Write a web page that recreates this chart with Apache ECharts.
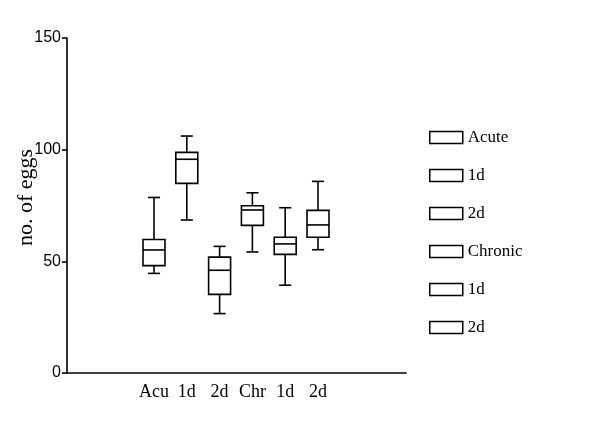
<!DOCTYPE html>
<html>
<head>
<meta charset="utf-8">
<script src="https://cdn.jsdelivr.net/npm/echarts@6/dist/echarts.min.js"></script>
<style>html,body{margin:0;padding:0;background:#fff}#c{width:600px;height:424px}</style>
</head>
<body>
<div id="c"></div>
<script>
// Category tick labels (as printed, truncated in the original)
var categories = ['Acu', '1d', '2d', 'Chr', '1d', '2d'];
// Legend labels
var legendLabels = ['Acute', '1d', '2d', 'Chronic', '1d', '2d'];
// Box statistics per group: [min, Q1, median, Q3, max]
var acute   = [44.6, 48.1, 55.1, 59.8, 78.6];
var acute1d = [68.5, 84.9, 95.7, 98.8, 106.1];
var acute2d = [26.6, 35.2, 46.0, 51.9, 56.7];
var chronic = [54.2, 66.1, 73.0, 74.9, 80.7];
var chron1d = [39.3, 53.1, 57.8, 60.8, 74.0];
var chron2d = [55.2, 60.8, 66.3, 72.8, 85.8];
var yTicks = [0, 50, 100, 150];

var groups = [acute, acute1d, acute2d, chronic, chron1d, chron2d];
var keys = ['k0', 'k1', 'k2', 'k3', 'k4', 'k5'];

function renderBox(params, api) {
  var x = api.value(0);
  var band = api.size([1, 0])[0];
  var bw = band * 0.67, cw = band * 0.37;
  var pLow = api.coord([x, api.value(1)]);
  var pQ1 = api.coord([x, api.value(2)]);
  var pMed = api.coord([x, api.value(3)]);
  var pQ3 = api.coord([x, api.value(4)]);
  var pHigh = api.coord([x, api.value(5)]);
  var cx = pMed[0];
  var st = {stroke: '#000', lineWidth: 1.6, fill: null};
  return {
    type: 'group',
    children: [
      {type: 'line', shape: {x1: cx, y1: pHigh[1], x2: cx, y2: pQ3[1]}, style: st},
      {type: 'line', shape: {x1: cx, y1: pQ1[1], x2: cx, y2: pLow[1]}, style: st},
      {type: 'line', shape: {x1: cx - cw / 2, y1: pHigh[1], x2: cx + cw / 2, y2: pHigh[1]}, style: st},
      {type: 'line', shape: {x1: cx - cw / 2, y1: pLow[1], x2: cx + cw / 2, y2: pLow[1]}, style: st},
      {type: 'rect', shape: {x: cx - bw / 2, y: pQ3[1], width: bw, height: pQ1[1] - pQ3[1]},
        style: {stroke: '#000', lineWidth: 1.6, fill: '#fff'}},
      {type: 'line', shape: {x1: cx - bw / 2, y1: pMed[1], x2: cx + bw / 2, y2: pMed[1]}, style: st}
    ]
  };
}

var series = groups.map(function (g, i) {
  return {
    type: 'custom',
    name: keys[i],
    xAxisIndex: 1,
    yAxisIndex: 1,
    renderItem: renderBox,
    itemStyle: {color: '#fff', borderColor: '#000'},
    encode: {x: 0, y: [1, 2, 3, 4, 5]},
    data: [[i].concat(g)],
    z: 5
  };
});

var chart = echarts.init(document.getElementById('c'), null, {renderer: 'canvas'});
chart.setOption({
  animation: false,
  backgroundColor: '#fff',
  grid: [
    {left: 67, right: 194, top: 38, bottom: 51, containLabel: false, outerBoundsMode: 'none'},
    {left: 137.6, right: 265.6, top: 38, bottom: 51, containLabel: false, outerBoundsMode: 'none'}
  ],
  xAxis: [
    {gridIndex: 0, type: 'value', min: 0, max: 1, axisLine: {show: true, lineStyle: {color: '#000', width: 1.6}},
      axisTick: {show: false}, axisLabel: {show: false}, splitLine: {show: false}},
    {gridIndex: 1, type: 'category', data: categories, boundaryGap: true,
      axisLine: {show: false}, axisTick: {show: false}, splitLine: {show: false},
      axisLabel: {color: '#000', fontFamily: 'Liberation Serif', fontSize: 18, margin: 10, interval: 0}}
  ],
  yAxis: [
    {gridIndex: 0, type: 'value', min: yTicks[0], max: yTicks[yTicks.length - 1], interval: 50,
      name: 'no. of eggs', nameLocation: 'middle', nameGap: 30, nameRotate: 90, nameMoveOverlap: false,
      nameTextStyle: {color: '#000', fontFamily: 'Liberation Serif', fontSize: 22, padding: [0, 0, 0, 16]},
      axisLine: {show: true, lineStyle: {color: '#000', width: 1.6}},
      axisTick: {show: true, length: 5, lineStyle: {color: '#000', width: 1.6}},
      axisLabel: {color: '#000', fontFamily: 'Liberation Sans', fontSize: 16, margin: 6},
      splitLine: {show: false}},
    {gridIndex: 1, type: 'value', min: yTicks[0], max: yTicks[yTicks.length - 1], show: false, splitLine: {show: false}}
  ],
  legend: {
    orient: 'vertical',
    left: 424,
    top: 124,
    itemWidth: 33,
    itemHeight: 12,
    itemGap: 21,
    icon: 'rect',
    selectedMode: false,
    data: keys,
    formatter: function (name) { return legendLabels[keys.indexOf(name)]; },
    itemStyle: {color: '#fff', borderColor: '#000', borderWidth: 1.5},
    textStyle: {color: '#000', fontFamily: 'Liberation Serif', fontSize: 17}
  },
  series: series
});
</script>
</body>
</html>
